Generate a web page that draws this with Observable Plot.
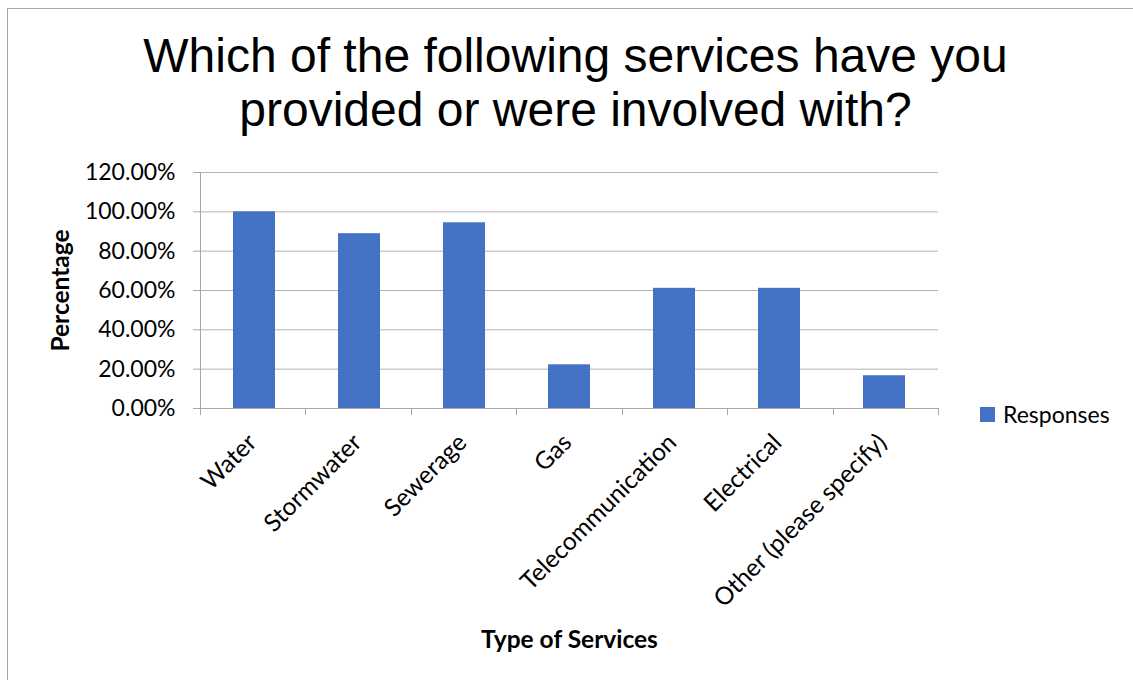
<!DOCTYPE html>
<html>
<head>
<meta charset="utf-8">
<script src="https://cdn.jsdelivr.net/npm/d3@7"></script>
<script src="https://cdn.jsdelivr.net/npm/@observablehq/plot@0.6"></script>
<style>
  body { margin: 0; background: #fff; }
  #wrap { position: relative; width: 1133px; height: 680px; overflow: hidden; font-family: Lato, sans-serif; }
  #border { position: absolute; left: 7px; top: 8px; width: 1150px; height: 700px; border: 1px solid #a6a6a6; box-sizing: border-box; }
  #title { position: absolute; left: 0; top: 29px; width: 1151px; text-align: center; font-family: "Liberation Sans", Arial, sans-serif; font-size: 48px; line-height: 54px; color: #000; }
  #chart { position: absolute; left: 0; top: 0; }
  #legend { position: absolute; left: 980px; top: 400px; display: flex; align-items: center; font-family: Lato, sans-serif; font-size: 23px; color: #000; }
  #legend .sw { width: 15px; height: 15px; background: #4472C4; margin-right: 8px; }
</style>
</head>
<body>
<div id="wrap">
  <div id="border"></div>
  <div id="title">Which of the following services have you<br>provided or were involved with?</div>
  <div id="chart"></div>
  <div id="legend"><div class="sw"></div><span id="legendText"></span></div>
</div>
<script>
const categories = ["Water", "Stormwater", "Sewerage", "Gas", "Telecommunication", "Electrical", "Other (please specify)"];
const values = [100, 88.89, 94.44, 22.22, 61.11, 61.11, 16.67];
const yTicks = [0, 20, 40, 60, 80, 100, 120];
const seriesName = "Responses";
const xTitle = "Type of Services";
const yTitle = "Percentage";

const data = categories.map((c, i) => ({category: c, value: values[i]}));
document.getElementById("legendText").textContent = seriesName;

const W = 1133, H = 680;
const barColor = "#4472C4";
const axisColor = "#a6a6a6";
const gridColor = "#b3b3b3";

const frameLines = (index, scales, vals, dims) => {
  const g = d3.create("svg:g").attr("stroke", axisColor).attr("stroke-width", 1);
  const l = dims.marginLeft, r = dims.width - dims.marginRight;
  const t = dims.marginTop, b = dims.height - dims.marginBottom;
  const n = categories.length, step = (r - l) / n;
  g.append("line").attr("x1", l + 0.5).attr("x2", l + 0.5).attr("y1", t).attr("y2", b + 7);
  for (let i = 0; i <= n; i++) {
    const xx = Math.round(l + i * step) + 0.5;
    g.append("line").attr("x1", xx).attr("x2", xx).attr("y1", b).attr("y2", b + 7);
  }
  return g.node();
};

const chart = Plot.plot({
  width: W,
  height: H,
  marginLeft: 200,
  marginRight: 195,
  marginTop: 172,
  marginBottom: 272,
  style: {fontFamily: "Lato, sans-serif", fontSize: "23px", color: "#000", background: "transparent"},
  x: {domain: categories, paddingInner: 0.6, paddingOuter: 0.3, label: null},
  y: {domain: [0, 120], ticks: yTicks, label: null},
  marks: [
    Plot.ruleY(yTicks.filter(t => t > 0), {stroke: gridColor}),
    Plot.barY(data, {x: "category", y: "value", fill: barColor}),
    Plot.ruleY([0], {stroke: axisColor}),
    frameLines,
    Plot.axisY({ticks: yTicks, tickSize: 7, text: null, stroke: axisColor}),
    Plot.axisY({ticks: yTicks, tickSize: 0, tickPadding: 25, tickFormat: d => d.toFixed(2) + "%", fontSize: 23, fill: "#000"}),
    Plot.axisX({tickSize: 0, tickRotate: -45, tickPadding: 30, fontSize: 24.5, fill: "#000", dx: -2}),
    Plot.text([yTitle], {frameAnchor: "left", textAnchor: "middle", rotate: -90, dx: -139, fontWeight: "bold", fontSize: 24.5, fill: "#000"}),
    Plot.text([xTitle], {frameAnchor: "bottom", dy: 239, fontWeight: "bold", fontSize: 24.5, fill: "#000"})
  ]
});
document.getElementById("chart").appendChild(chart);
</script>
</body>
</html>
